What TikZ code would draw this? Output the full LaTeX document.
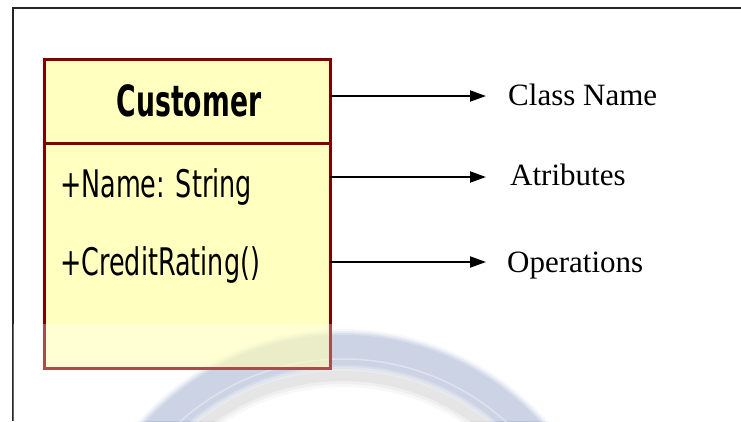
\documentclass[tikz,border=0pt]{standalone}
\usepackage{fontspec}
\setmainfont{Liberation Serif}
\newfontfamily\umlfont{DejaVu Sans}
\usetikzlibrary{arrows.meta}
\definecolor{clsfill}{RGB}{255,255,150}
\definecolor{clsborder}{RGB}{128,0,0}
\definecolor{ringblue}{RGB}{178,190,216}
\definecolor{ringgray}{RGB}{185,185,185}
\tikzset{
  clsbox/.style={draw=clsborder, fill=clsfill, fill opacity=0.6, line width=3pt, minimum width=286pt, minimum height=309pt, inner sep=0pt},
  umltext/.style={inner sep=0pt, anchor=base west, font=\umlfont\fontsize{38}{40}\selectfont},
  lbl/.style={inner sep=0pt, anchor=base west, font=\fontsize{31}{33}\selectfont},
  pointer/.style={line width=2pt, -{Triangle[length=16pt,width=11pt]}}
}
\begin{document}
\begin{tikzpicture}[x=1pt,y=-1pt]
\useasboundingbox (0,0) rectangle (741,421);
\fill[white] (0,0) rectangle (741,421);
% background ring (watermark)
\begin{scope}
\clip (13,324) rectangle (712,421);
\foreach \w/\o in {22/0.12,16/0.2,10/0.3}{
  \draw[ringgray, line width=\w pt, opacity=\o] (343,602) circle[radius=226];
}
\foreach \w/\o in {42/0.15,38/0.3,34/0.5,30/0.8}{
  \draw[ringblue, line width=\w pt, opacity=\o] (343,602) circle[radius=252];
}
\draw[white, line width=1.5pt, opacity=0.35] (343,602) circle[radius=243];
\end{scope}
% frame
\draw[line width=1.5pt, black!85] (741,8) -- (13,8) -- (13,421);
% class box
\node[clsbox] (cls) at (187,213.5) {};
\coordinate (dl) at (44,143);
\coordinate (dr) at (330,143);
\draw[clsborder, line width=3pt] (dl) -- (dr);
\node[inner sep=0pt, font=\umlfont\bfseries\fontsize{43}{45}\selectfont] (cname) at (189,101) {\scalebox{0.62}[1]{Customer}};
\node[umltext] (attr) at (60,197) {\scalebox{0.67}[1]{+Name: String}};
\node[umltext] (oper) at (60,275) {\scalebox{0.67}[1]{+CreditRating()}};
% light overlay band
\fill[white, opacity=0.3] (13,324) rectangle (712,421);
% arrows and labels
\node[lbl] (l1) at (508,105) {Class Name};
\node[lbl] (l2) at (510,185) {Atributes};
\node[lbl] (l3) at (507,272) {Operations};
\coordinate (a1) at (330,96);
\coordinate (a2) at (330,177);
\coordinate (a3) at (330,262);
\coordinate (b1) at (486,96);
\coordinate (b2) at (486,177);
\coordinate (b3) at (486,262);
\draw[pointer] (a1) -- (b1);
\draw[pointer] (a2) -- (b2);
\draw[pointer] (a3) -- (b3);
\end{tikzpicture}
\end{document}
